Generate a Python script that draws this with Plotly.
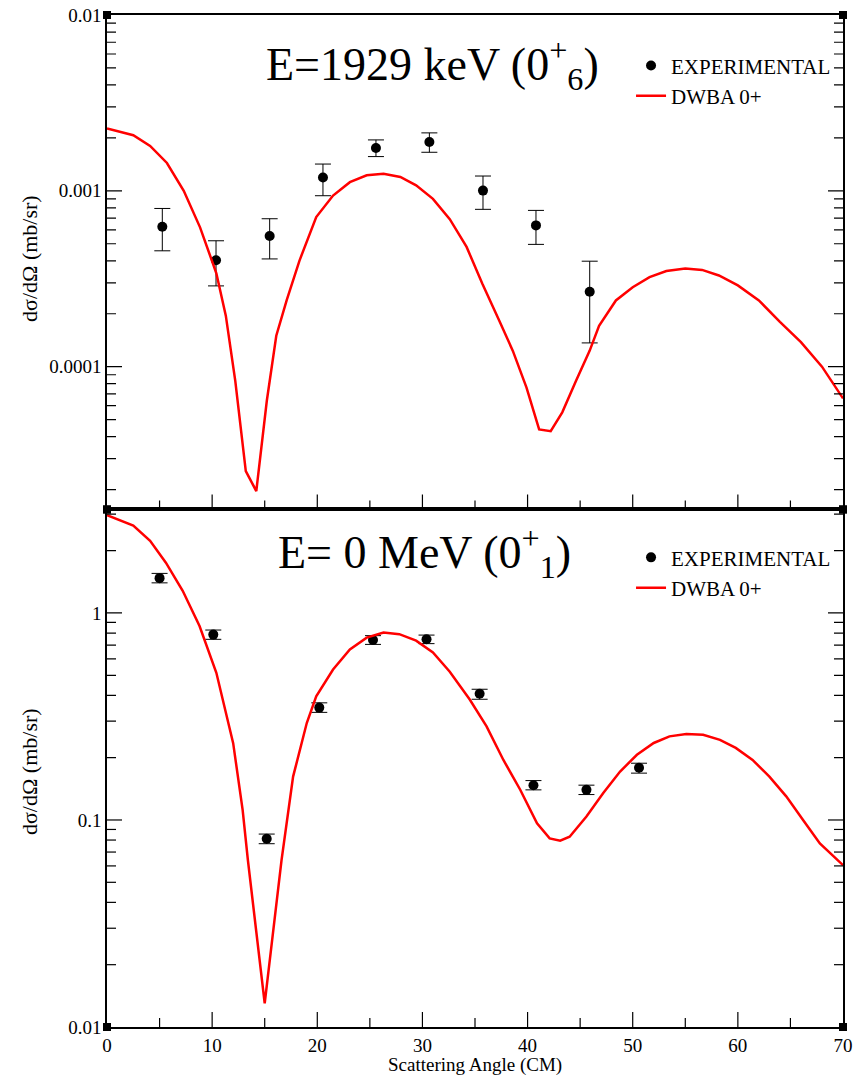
import math
import plotly.graph_objects as go

# ---- E = 1929 keV (0+_6) ----
exp6_angle = [5.26, 10.37, 15.47, 20.54, 25.58, 30.66, 35.76, 40.80, 45.91]
exp6_xs = [6.25e-4, 4.03e-4, 5.53e-4, 1.19e-3, 1.754e-3, 1.897e-3, 1.003e-3, 6.36e-4, 2.67e-4]
exp6_hi = [7.94e-4, 5.20e-4, 6.94e-4, 1.42e-3, 1.948e-3, 2.136e-3, 1.214e-3, 7.74e-4, 3.98e-4]
exp6_lo = [4.56e-4, 2.88e-4, 4.10e-4, 9.38e-4, 1.566e-3, 1.657e-3, 7.85e-4, 4.96e-4, 1.365e-4]

dwba6_angle = [0.0, 2.5, 4.1, 5.7, 7.3, 8.85, 10.4, 11.3, 12.2, 13.2, 14.2, 15.2, 16.1,
               17.1, 18.3, 19.9, 21.5, 23.1, 24.7, 26.3, 27.9, 29.4, 31.0, 32.6, 34.2,
               35.7, 37.3, 38.6, 39.9, 41.1, 42.2, 43.3, 44.6, 45.9, 46.8, 48.4, 50.0,
               51.6, 53.2, 55.0, 56.6, 58.2, 60.0, 62.0, 64.0, 66.0, 68.0, 70.0]
dwba6_xs = [2.26e-3, 2.07e-3, 1.80e-3, 1.44e-3, 1.0e-3, 6.2e-4, 3.4e-4, 1.95e-4, 8.3e-5,
            2.55e-5, 1.96e-5, 6.4e-5, 1.5e-4, 2.4e-4, 4.0e-4, 7.1e-4, 9.4e-4, 1.12e-3,
            1.225e-3, 1.25e-3, 1.2e-3, 1.075e-3, 9.0e-4, 6.9e-4, 4.8e-4, 2.96e-4, 1.83e-4,
            1.23e-4, 7.6e-5, 4.4e-5, 4.3e-5, 5.5e-5, 8.3e-5, 1.23e-4, 1.71e-4, 2.38e-4,
            2.83e-4, 3.23e-4, 3.5e-4, 3.62e-4, 3.55e-4, 3.3e-4, 2.9e-4, 2.38e-4, 1.8e-4,
            1.38e-4, 1.0e-4, 6.6e-5]

# ---- E = 0 MeV (0+_1) ----
exp1_angle = [5.00, 10.11, 15.19, 20.19, 25.30, 30.39, 35.44, 40.56, 45.60, 50.60]
exp1_xs = [1.473, 0.786, 0.0812, 0.349, 0.740, 0.746, 0.407, 0.1473, 0.1398, 0.1787]
exp1_hi = [1.553, 0.827, 0.0855, 0.368, 0.777, 0.782, 0.428, 0.155, 0.1473, 0.188]
exp1_lo = [1.398, 0.746, 0.0768, 0.331, 0.705, 0.711, 0.383, 0.1398, 0.1327, 0.1684]

dwba1_angle = [0.0, 2.5, 4.1, 5.6, 7.2, 8.8, 10.4, 12.0, 12.9, 13.4, 15.0, 16.6, 17.7,
               19.0, 19.9, 21.5, 23.1, 24.7, 26.3, 27.8, 29.4, 31.0, 32.6, 34.5, 36.1,
               37.7, 39.3, 40.9, 42.1, 43.1, 44.0, 45.6, 47.2, 48.8, 50.4, 52.0, 53.5,
               55.1, 56.7, 58.3, 59.8, 61.4, 63.0, 64.6, 66.2, 67.8, 70.0]
dwba1_xs = [2.97, 2.64, 2.23, 1.75, 1.28, 0.865, 0.514, 0.235, 0.112, 0.064, 0.0130,
            0.064, 0.162, 0.294, 0.396, 0.533, 0.667, 0.760, 0.804, 0.79, 0.735, 0.645,
            0.52, 0.382, 0.283, 0.195, 0.140, 0.0964, 0.0815, 0.0794, 0.083, 0.104,
            0.135, 0.1715, 0.2065, 0.2355, 0.2535, 0.260, 0.258, 0.244, 0.223, 0.195,
            0.162, 0.130, 0.100, 0.077, 0.0605]

angle_range = (0, 70)
angle_major = [10, 20, 30, 40, 50, 60]
angle_minor = [5, 15, 25, 35, 45, 55, 65]
top_ticks = [1e-4, 1e-3, 1e-2]
top_ticktext = ["0.0001", "0.001", "0.01"]
bot_ticks = [1e-2, 1e-1, 1]
bot_ticktext = ["0.01", "0.1", "1"]

FONT = "Liberation Serif"
MAJOR_LEN, MINOR_LEN = 15, 9

fig = go.Figure()


def add_panel(angle, xs, hi, lo, th_angle, th_xs, xa, ya, legend):
    fig.add_trace(go.Scatter(
        x=angle, y=xs, mode="markers", name="EXPERIMENTAL",
        marker=dict(color="black", size=10),
        error_y=dict(type="data", symmetric=False,
                     array=[h - v for h, v in zip(hi, xs)],
                     arrayminus=[v - l for l, v in zip(lo, xs)],
                     color="black", thickness=1, width=8),
        xaxis=xa, yaxis=ya, legend=legend))
    fig.add_trace(go.Scatter(
        x=th_angle, y=th_xs, mode="lines", name="DWBA 0+",
        line=dict(color="#ff0000", width=2.5),
        xaxis=xa, yaxis=ya, legend=legend))


add_panel(exp6_angle, exp6_xs, exp6_hi, exp6_lo, dwba6_angle, dwba6_xs, "x2", "y2", "legend")
add_panel(exp1_angle, exp1_xs, exp1_hi, exp1_lo, dwba1_angle, dwba1_xs, "x", "y", "legend2")

axis_common = dict(showline=True, linecolor="black", linewidth=1.5, mirror=True,
                   ticks="", showgrid=False, zeroline=False, automargin=False,
                   tickfont=dict(family=FONT, size=19, color="black"))

x_common = dict(axis_common, range=list(angle_range), tickmode="array",
                tickvals=[0, 10, 20, 30, 40, 50, 60, 70])

split = 0.5114
y_ranges = {"y": (-2, 0.5), "y2": (-4.812, -2)}
fig.update_layout(
    width=862, height=1077,
    margin=dict(l=107, r=19, t=15, b=50),
    paper_bgcolor="white", plot_bgcolor="white",
    xaxis=dict(x_common, domain=[0, 1], anchor="y"),
    xaxis2=dict(x_common, domain=[0, 1], anchor="y2", showticklabels=False),
    yaxis=dict(axis_common, type="log", range=list(y_ranges["y"]), domain=[0, split],
               anchor="x", tickmode="array", tickvals=bot_ticks, ticktext=bot_ticktext),
    yaxis2=dict(axis_common, type="log", range=list(y_ranges["y2"]), domain=[split, 1],
                anchor="x2", tickmode="array", tickvals=top_ticks, ticktext=top_ticktext),
    legend=dict(x=0.712, y=0.97, xanchor="left", yanchor="top", bgcolor="rgba(0,0,0,0)",
                borderwidth=0, font=dict(family=FONT, size=21, color="black")),
    legend2=dict(x=0.712, y=0.484, xanchor="left", yanchor="top", bgcolor="rgba(0,0,0,0)",
                 borderwidth=0, font=dict(family=FONT, size=21, color="black")),
)

# inward tick marks on all four sides of each frame, anchored on the axes' own scales
tick_line = dict(color="black", width=1.2)
for xa, ya in (("x", "y"), ("x2", "y2")):
    lo_exp, hi_exp = y_ranges[ya]
    y_edges = ((10.0 ** lo_exp, 1), (10.0 ** hi_exp, -1))
    x_edges = ((angle_range[0], 1), (angle_range[1], -1))
    y_major = [10.0 ** e for e in range(-6, 2) if lo_exp < e < hi_exp]
    y_minor = [m * 10.0 ** e for e in range(-6, 1) for m in range(2, 10)
               if lo_exp < e + math.log10(m) < hi_exp]
    for vals, ln in ((angle_major, MAJOR_LEN), (angle_minor, MINOR_LEN)):
        for v in vals:
            for edge, sign in y_edges:
                fig.add_shape(type="line", xref=xa, yref=ya, ysizemode="pixel",
                              yanchor=edge, x0=v, x1=v, y0=0, y1=sign * ln,
                              line=tick_line, layer="above")
    for vals, ln in ((y_major, MAJOR_LEN), (y_minor, MINOR_LEN)):
        for v in vals:
            for edge, sign in x_edges:
                fig.add_shape(type="line", xref=xa, yref=ya, xsizemode="pixel",
                              xanchor=edge, y0=v, y1=v, x0=0, x1=sign * ln,
                              line=tick_line, layer="above")

# panel headings and axis titles
fig.add_annotation(text="E=1929 keV (0<sup>+</sup><sub>6</sub>)", xref="paper", yref="paper",
                   x=0.4416, y=0.951, xanchor="center", yanchor="middle", showarrow=False,
                   font=dict(family=FONT, size=46, color="black"))
fig.add_annotation(text="E= 0 MeV (0<sup>+</sup><sub>1</sub>)", xref="paper", yref="paper",
                   x=0.432, y=0.4684, xanchor="center", yanchor="middle", showarrow=False,
                   font=dict(family=FONT, size=46, color="black"))
for yc in (0.759, 0.252):
    fig.add_annotation(text="dσ/dΩ (mb/sr)", xref="paper", yref="paper", x=-0.1046, y=yc,
                       xanchor="center", yanchor="middle", textangle=-90, showarrow=False,
                       font=dict(family=FONT, size=22, color="black"))
fig.add_annotation(text="Scattering Angle (CM)", xref="paper", yref="paper", x=0.5, y=-0.0375,
                   xanchor="center", yanchor="middle", showarrow=False,
                   font=dict(family=FONT, size=19, color="black"))

# small filled squares at the frame corners
for xr, yr in (("x domain", "y domain"), ("x2 domain", "y2 domain")):
    for cx in (0, 1):
        for cy in (0, 1):
            fig.add_shape(type="rect", xref=xr, yref=yr, xsizemode="pixel", ysizemode="pixel",
                          xanchor=cx, yanchor=cy, x0=-4, x1=4, y0=-4, y1=4,
                          fillcolor="black", line=dict(width=0))

fig.write_html("out.html")
